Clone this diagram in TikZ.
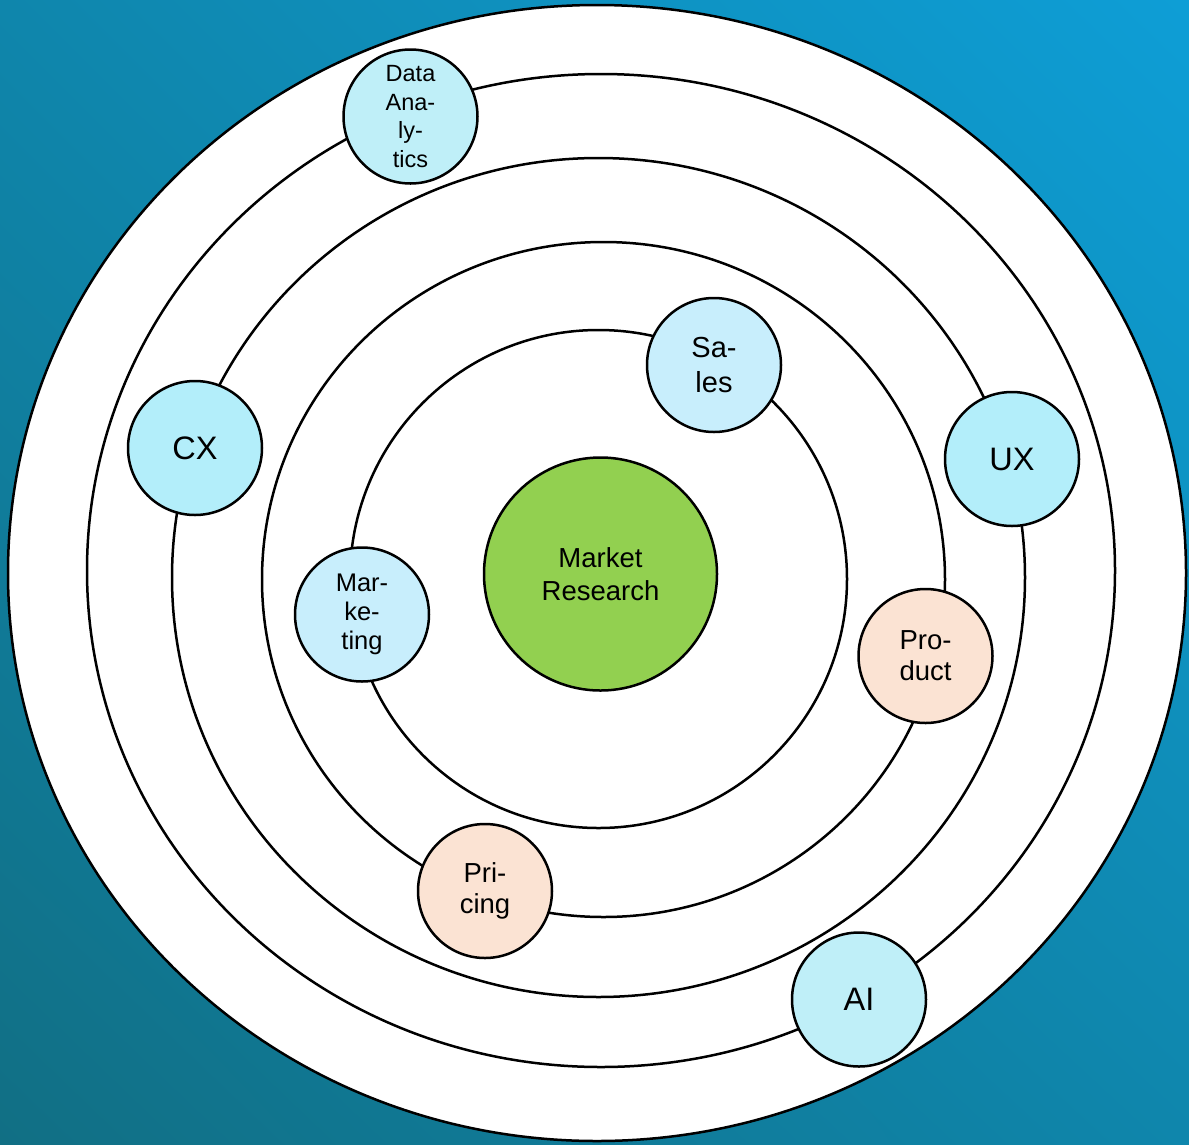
\documentclass[tikz,border=0pt]{standalone}
\usepackage{fontspec}
\setmainfont{Liberation Sans}
\usetikzlibrary{shadings}

\begin{document}
\begin{tikzpicture}[x=1pt,y=-1pt]
    \tikzset{ring/.style={draw=black, line width=2.5pt},
        topic/.style={circle, draw=black, line width=2.5pt, minimum size=134pt, inner sep=0pt, align=center}}
\definecolor{bg_dark}{RGB}{17,111,132}
\definecolor{bg_mid}{RGB}{15,134,172}
\definecolor{bg_light}{RGB}{14,158,214}
\definecolor{mr_green}{RGB}{146,208,80}
\definecolor{topic_cyan}{RGB}{179,238,250}
\definecolor{topic_ice}{RGB}{191,239,248}
\definecolor{topic_sky}{RGB}{200,238,252}
\definecolor{topic_peach}{RGB}{251,227,211}
\useasboundingbox (0,0) rectangle (1189,1144);
% Hintergrund
\shade[upper left=bg_mid, upper right=bg_light, lower left=bg_dark, lower right=bg_mid] (0,0) rectangle (1189,1144);
% Ringe
\draw[ring, fill=white] (597,573) ellipse [x radius=589pt, y radius=568pt];
\foreach \cx/\cy/\rx/\ry in {601/570.5/514/496.5, 598.5/577.5/426.5/419.5, 603.5/579.5/341.5/337.5, 598.5/579/248.5/249} {
    \draw[ring] (\cx,\cy) ellipse [x radius=\rx pt, y radius=\ry pt];
}
% Mitte
\node[topic, fill=mr_green, minimum size=233pt, font=\fontsize{27.5}{33}\selectfont] (market) at (600.5,574) {Market\\Research};
% Innerer Ring
\node[topic, fill=topic_sky, font=\fontsize{29}{35}\selectfont] (sales) at (714,365) {Sa-\\les};
\node[topic, fill=topic_sky, font=\fontsize{25.5}{29}\selectfont] (marketing) at (362,614.5) {Mar-\\ke-\\ting};
% Zweiter Ring
\node[topic, fill=topic_peach, font=\fontsize{27.5}{31}\selectfont] (product) at (925.5,656) {Pro-\\duct};
\node[topic, fill=topic_peach, font=\fontsize{27.5}{31}\selectfont] (pricing) at (485,891) {Pri-\\cing};
% Aeussere Ringe
\node[topic, fill=topic_cyan, font=\fontsize{32.5}{38}\selectfont] (cx) at (195,448) {CX};
\node[topic, fill=topic_cyan, font=\fontsize{32.5}{38}\selectfont] (ux) at (1012,459) {UX};
\node[topic, fill=topic_ice, font=\fontsize{32.5}{38}\selectfont] (ai) at (859,999.5) {AI};
\node[topic, fill=topic_ice, font=\fontsize{23.5}{28.5}\selectfont] (analytics) at (410.5,116.5) {Data\\Ana-\\ly-\\tics};

\end{tikzpicture}
\end{document}
